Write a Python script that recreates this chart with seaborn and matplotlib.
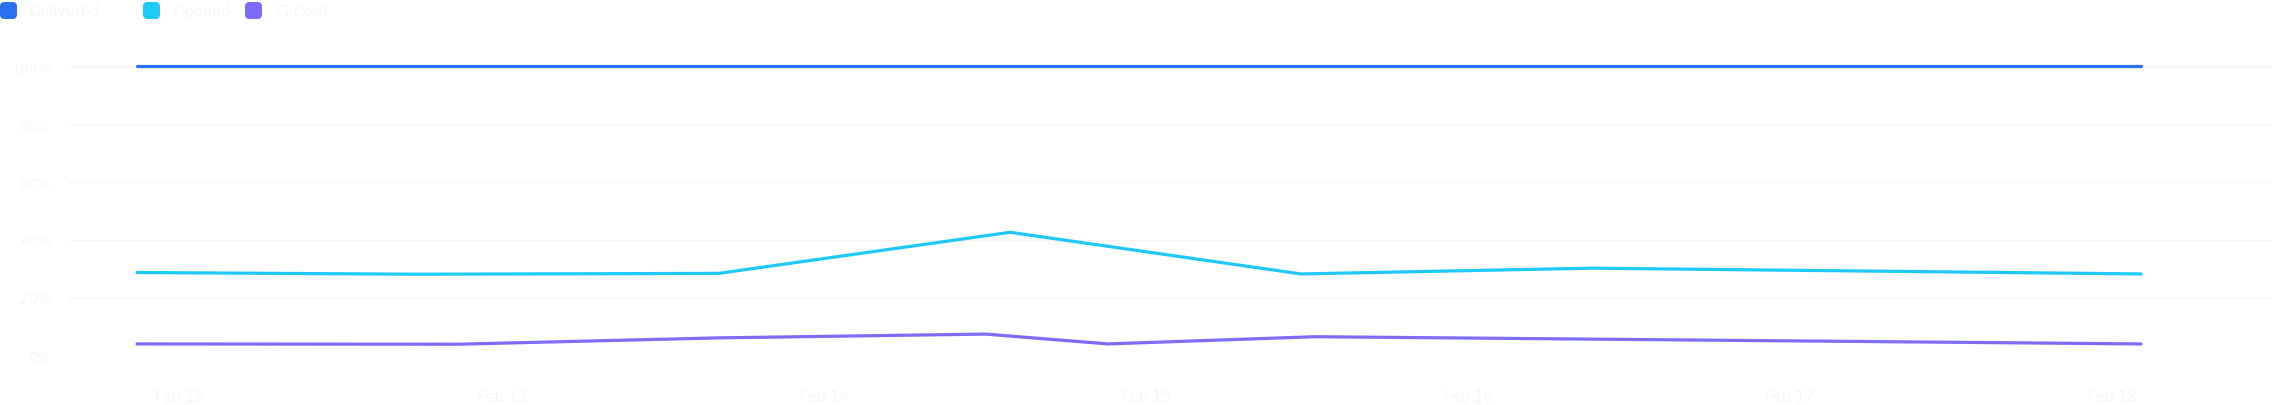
import pandas as pd
import seaborn as sns
import matplotlib
matplotlib.use("Agg")
import matplotlib.pyplot as plt
import matplotlib.dates as mdates
from matplotlib.patches import FancyBboxPatch

# Series (percent of sent)
series_names = ["Delivered", "Opened", "Clicked"]

opened_times = ["2024-02-11 20:48", "2024-02-12 17:36", "2024-02-13 16:10", "2024-02-14 13:52",
                "2024-02-15 11:33", "2024-02-16 09:14", "2024-02-18 02:10"]
opened_vals = [28.7, 28.1, 28.4, 42.6, 28.2, 30.2, 28.2]

delivered_times = opened_times
delivered_vals = [100, 100, 100, 100, 100, 100, 100]

clicked_times = ["2024-02-11 20:48", "2024-02-12 20:43", "2024-02-13 16:10", "2024-02-14 12:04",
                 "2024-02-14 21:10", "2024-02-15 12:36", "2024-02-18 02:10"]
clicked_vals = [4.0, 3.9, 6.1, 7.4, 4.0, 6.5, 4.0]

tick_dates = ["2024-02-12", "2024-02-13", "2024-02-14", "2024-02-15",
              "2024-02-16", "2024-02-17", "2024-02-18"]
y_ticks = [0, 20, 40, 60, 80, 100]

colors = {"Delivered": "#2970f0", "Opened": "#1ec8f7", "Clicked": "#7d6bfb"}
text_color = "#f6f6f6"

frames = []
for name, t, v in [("Delivered", delivered_times, delivered_vals),
                   ("Opened", opened_times, opened_vals),
                   ("Clicked", clicked_times, clicked_vals)]:
    frames.append(pd.DataFrame({"time": pd.to_datetime(t), "rate": v, "series": name}))
df = pd.concat(frames, ignore_index=True)

sns.set_style("white")
W, H = 2272, 406
fig = plt.figure(figsize=(W / 100, H / 100), dpi=100)
ax = fig.add_axes([69 / W, (H - 356.5) / H, (W - 69) / W, (356.5 - 67.3) / H])

sns.lineplot(data=df, x="time", y="rate", hue="series", hue_order=series_names,
             palette=colors, estimator=None, sort=True, linewidth=2.3,
             legend=False, ax=ax)
for line in ax.lines:
    line.set_clip_on(False)
    line.set_solid_joinstyle("miter")

base = pd.Timestamp("2024-02-12")
ax.set_xlim(base - pd.Timedelta(days=0.3447), base + pd.Timedelta(days=6.497))
ax.set_ylim(0, 100)

ax.set_xticks(pd.to_datetime(tick_dates))
ax.xaxis.set_major_formatter(mdates.DateFormatter("%b %d"))
ax.set_yticks(y_ticks)
ax.set_yticklabels([f"{v}%" for v in y_ticks])
ax.tick_params(axis="x", length=0, pad=24, labelsize=10.5, labelcolor=text_color)
ax.tick_params(axis="y", length=0, pad=13, labelsize=10, labelcolor=text_color)
ax.set_xlabel("")
ax.set_ylabel("")
ax.grid(axis="y", color="#f4f4f4", linewidth=1)
ax.grid(axis="x", visible=False)
for s in ax.spines.values():
    s.set_visible(False)

# legend: rounded squares with faint labels
legend_x = [0, 143, 245]
for name, x0 in zip(series_names, legend_x):
    fig.patches.append(FancyBboxPatch((x0 / W, (H - 20) / H), 17 / W, 17 / H,
                                      boxstyle="round,pad=0,rounding_size=0.002",
                                      transform=fig.transFigure, facecolor=colors[name],
                                      edgecolor="none", mutation_aspect=W / H))
    fig.text((x0 + 30) / W, (H - 12) / H, name, color=text_color, fontsize=10.5,
             va="center", ha="left")

fig.savefig("out.png", dpi=100)
